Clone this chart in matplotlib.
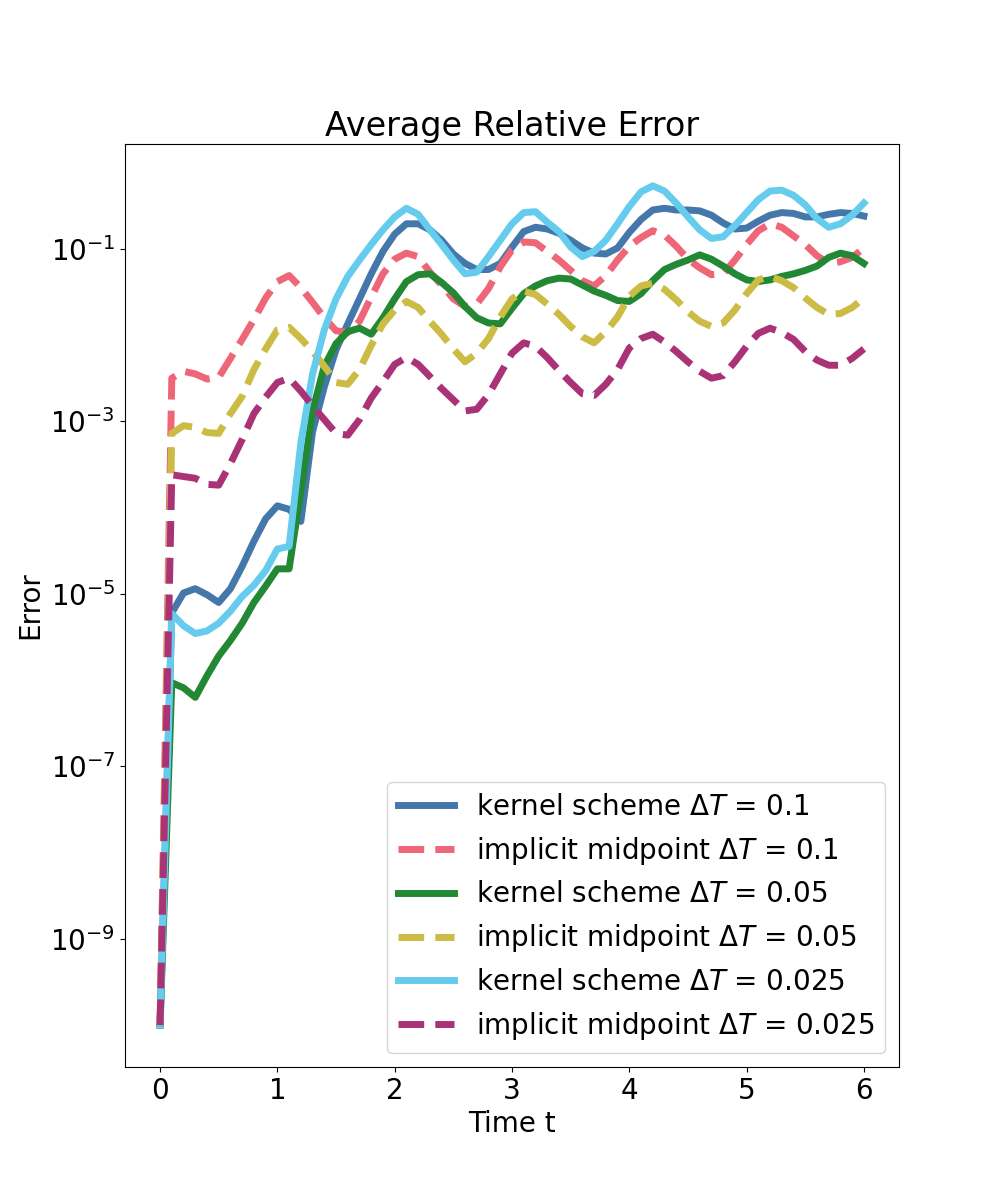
import numpy as np
import matplotlib
matplotlib.use('Agg')
import matplotlib.pyplot as plt

# time grid and log10 of the error
t = [round(0.1 * i, 1) for i in range(61)]

log_kernel_01 = [-10.0, -5.22, -4.99, -4.94, -5.01, -5.10, -4.94, -4.68, -4.39, -4.13,
                 -3.98, -4.02, -4.16, -3.12, -2.60, -2.17, -1.87, -1.58, -1.29, -1.03,
                 -0.83, -0.71, -0.71, -0.78, -0.90, -1.06, -1.17, -1.24, -1.24, -1.17,
                 -0.98, -0.80, -0.75, -0.77, -0.82, -0.90, -0.99, -1.05, -1.06, -0.99,
                 -0.81, -0.66, -0.55, -0.53, -0.55, -0.55, -0.56, -0.61, -0.70, -0.77,
                 -0.76, -0.68, -0.61, -0.58, -0.59, -0.63, -0.63, -0.60, -0.58, -0.59,
                 -0.62]
log_implicit_01 = [-10.0, -2.50, -2.42, -2.45, -2.51, -2.49, -2.27, -2.05, -1.82, -1.57,
                   -1.38, -1.31, -1.45, -1.62, -1.80, -1.95, -1.97, -1.84, -1.56, -1.29,
                   -1.12, -1.05, -1.09, -1.27, -1.42, -1.58, -1.67, -1.64, -1.46, -1.21,
                   -1.01, -0.92, -0.93, -1.03, -1.13, -1.25, -1.37, -1.43, -1.31, -1.13,
                   -0.97, -0.87, -0.79, -0.84, -0.97, -1.12, -1.22, -1.30, -1.29, -1.13,
                   -0.95, -0.79, -0.71, -0.75, -0.85, -0.95, -1.08, -1.17, -1.15, -1.10,
                   -0.99]
log_kernel_005 = [-10.0, -6.03, -6.09, -6.20, -5.95, -5.72, -5.54, -5.34, -5.10, -4.91,
                  -4.71, -4.71, -3.81, -2.88, -2.36, -2.10, -1.96, -1.92, -1.99, -1.80,
                  -1.58, -1.38, -1.30, -1.29, -1.39, -1.51, -1.67, -1.80, -1.86, -1.87,
                  -1.69, -1.52, -1.43, -1.37, -1.34, -1.35, -1.42, -1.49, -1.54, -1.60,
                  -1.61, -1.52, -1.37, -1.24, -1.18, -1.13, -1.07, -1.12, -1.20, -1.29,
                  -1.36, -1.38, -1.36, -1.32, -1.29, -1.25, -1.20, -1.10, -1.05, -1.08,
                  -1.17]
log_implicit_005 = [-10.0, -3.14, -3.05, -3.07, -3.13, -3.14, -2.91, -2.71, -2.40, -2.16,
                    -1.94, -1.91, -2.04, -2.19, -2.36, -2.55, -2.57, -2.40, -2.12, -1.87,
                    -1.71, -1.61, -1.68, -1.84, -1.99, -2.16, -2.31, -2.21, -2.04, -1.79,
                    -1.58, -1.49, -1.53, -1.64, -1.76, -1.90, -2.02, -2.09, -1.96, -1.79,
                    -1.55, -1.43, -1.40, -1.47, -1.59, -1.73, -1.84, -1.90, -1.86, -1.71,
                    -1.52, -1.36, -1.32, -1.37, -1.45, -1.57, -1.68, -1.76, -1.75, -1.68,
                    -1.57]
log_kernel_0025 = [-10.0, -5.23, -5.37, -5.46, -5.43, -5.34, -5.20, -5.03, -4.90, -4.73,
                   -4.48, -4.45, -3.25, -2.45, -1.94, -1.58, -1.32, -1.13, -0.95, -0.78,
                   -0.63, -0.53, -0.60, -0.78, -0.95, -1.13, -1.29, -1.27, -1.09, -0.90,
                   -0.71, -0.58, -0.57, -0.69, -0.80, -0.98, -1.09, -1.03, -0.90, -0.71,
                   -0.51, -0.34, -0.27, -0.33, -0.47, -0.63, -0.78, -0.88, -0.86, -0.73,
                   -0.58, -0.43, -0.33, -0.32, -0.38, -0.49, -0.65, -0.75, -0.71, -0.61,
                   -0.47]
log_implicit_0025 = [-10.0, -3.62, -3.64, -3.66, -3.73, -3.74, -3.49, -3.21, -2.91, -2.72,
                     -2.55, -2.50, -2.65, -2.82, -2.98, -3.14, -3.16, -2.98, -2.73, -2.54,
                     -2.34, -2.26, -2.34, -2.48, -2.62, -2.75, -2.88, -2.86, -2.69, -2.45,
                     -2.21, -2.09, -2.13, -2.26, -2.41, -2.55, -2.68, -2.70, -2.57, -2.40,
                     -2.15, -2.04, -1.99, -2.08, -2.19, -2.31, -2.42, -2.50, -2.47, -2.31,
                     -2.13, -1.98, -1.92, -1.97, -2.05, -2.19, -2.29, -2.35, -2.35, -2.27,
                     -2.16]

series = [
    ("kernel scheme $\\Delta T$ = 0.1", log_kernel_01, '#4477AA', '-'),
    ("implicit midpoint $\\Delta T$ = 0.1", log_implicit_01, '#EE6677', '--'),
    ("kernel scheme $\\Delta T$ = 0.05", log_kernel_005, '#228833', '-'),
    ("implicit midpoint $\\Delta T$ = 0.05", log_implicit_005, '#CCBB44', '--'),
    ("kernel scheme $\\Delta T$ = 0.025", log_kernel_0025, '#66CCEE', '-'),
    ("implicit midpoint $\\Delta T$ = 0.025", log_implicit_0025, '#AA3377', '--'),
]

fig, ax = plt.subplots(figsize=(9.99, 11.99), dpi=100)
for label, logv, col, ls in series:
    ax.plot(t, 10.0 ** np.array(logv), ls, color=col, linewidth=5, label=label)

ax.set_yscale('log')
ax.set_title("Average Relative Error", fontsize=24)
ax.set_xlabel("Time t", fontsize=20)
ax.set_ylabel("Error", fontsize=20)
ax.tick_params(labelsize=20)
ax.legend(loc='lower right', fontsize=20)

plt.savefig("out.png", dpi=100)
